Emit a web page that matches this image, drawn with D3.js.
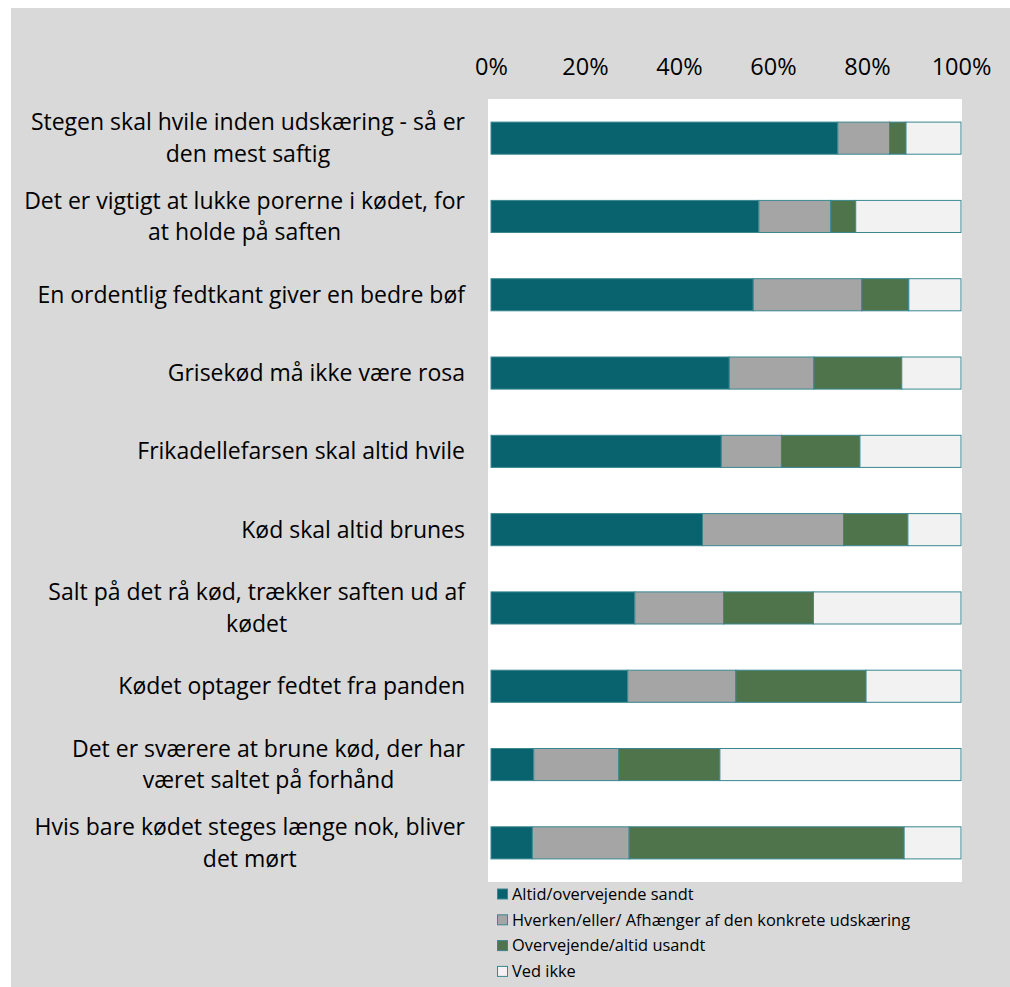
<!DOCTYPE html>
<html>
<head>
<meta charset="utf-8">
<script src="https://cdn.jsdelivr.net/npm/d3@7"></script>
<style>
  html, body { margin: 0; padding: 0; background: #ffffff; }
  svg { display: block; }
  text { font-family: "Open Sans", "Noto Sans", sans-serif; fill: #000; }
</style>
</head>
<body>
<svg id="chart" width="1010" height="987"></svg>
<script>
// Statements (line breaks mark where each label wraps)
const categories = [
  "Stegen skal hvile inden udskæring - så er\nden mest saftig",
  "Det er vigtigt at lukke porerne i kødet, for\nat holde på saften",
  "En ordentlig fedtkant giver en bedre bøf",
  "Grisekød må ikke være rosa",
  "Frikadellefarsen skal altid hvile",
  "Kød skal altid brunes",
  "Salt på det rå kød, trækker saften ud af\nkødet",
  "Kødet optager fedtet fra panden",
  "Det er sværere at brune kød, der har\nværet saltet på forhånd",
  "Hvis bare kødet steges længe nok, bliver\ndet mørt"
];

const seriesNames = [
  "Altid/overvejende sandt",
  "Hverken/eller/ Afhænger af den konkrete udskæring",
  "Overvejende/altid usandt",
  "Ved ikke"
];

// Share of answers (%) per statement, one array per answer option
const altidSandt   = [73.8, 57.0, 55.8, 50.7, 49.0, 45.0, 30.6, 29.1,  9.1,  8.8];
const hverkenEller = [11.0, 15.3, 23.1, 18.0, 12.8, 30.0, 18.9, 23.0, 18.1, 20.6];
const usandt       = [ 3.5,  5.3, 10.0, 18.7, 16.7, 13.7, 19.1, 27.7, 21.5, 58.5];
const vedIkke      = [11.7, 22.4, 11.1, 12.6, 21.5, 11.3, 31.4, 20.2, 51.3, 12.1];

const tickValues = [0, 0.2, 0.4, 0.6, 0.8, 1.0];
const colors = ["#08636f", "#a5a5a5", "#4f744c", "#f2f2f2"];

const svg = d3.select("#chart");

// Grey chart background and white plot area
svg.append("rect").attr("x", 11).attr("y", 8).attr("width", 999).attr("height", 979).attr("fill", "#d9d9d9");

const plot = { left: 488, right: 962, top: 99, bottom: 882 };
svg.append("rect")
  .attr("x", plot.left).attr("y", plot.top)
  .attr("width", plot.right - plot.left).attr("height", plot.bottom - plot.top)
  .attr("fill", "#ffffff");

const x = d3.scaleLinear().domain([0, 1]).range([491, 961]);
const y = d3.scaleBand().domain(d3.range(categories.length))
  .range([plot.top, plot.bottom]).paddingInner(0.59).paddingOuter(0.295);

// Build stacked rows from the series arrays
const rows = categories.map((c, i) => {
  const vals = [altidSandt[i], hverkenEller[i], usandt[i], vedIkke[i]];
  const total = d3.sum(vals);
  const obj = { i };
  seriesNames.forEach((s, k) => obj[s] = vals[k] / total);
  return obj;
});
const stacked = d3.stack().keys(seriesNames)(rows);

const layers = svg.append("g").selectAll("g").data(stacked).join("g")
  .attr("fill", (d, k) => colors[k]);

layers.selectAll("rect").data(d => d).join("rect")
  .attr("x", d => x(d[0]))
  .attr("y", d => y(d.data.i))
  .attr("width", d => x(d[1]) - x(d[0]))
  .attr("height", y.bandwidth())
  .attr("stroke", "#3a8790")
  .attr("stroke-width", 1);

// Percent axis on top
const axis = d3.axisTop(x).tickValues(tickValues).tickFormat(d3.format(".0%")).tickSize(0).tickPadding(0);
const gAxis = svg.append("g").attr("transform", "translate(0,75)").call(axis);
gAxis.select(".domain").remove();
gAxis.selectAll("text").style("font-size", "23.5px").style("font-family", "'Open Sans', sans-serif").attr("fill", "#000");

// Category labels: right-aligned block, lines centred within it
const labelRight = 465;
const lineH = 31.5;
categories.forEach((c, i) => {
  const lines = c.split("\n");
  const g = svg.append("g");
  const cy = y(i) + y.bandwidth() / 2;
  const texts = lines.map((ln, j) => g.append("text")
    .attr("y", cy + (j - (lines.length - 1) / 2) * lineH)
    .attr("dy", "0.35em")
    .style("font-size", "23px")
    .text(ln));
  const widths = texts.map(t => t.node().getComputedTextLength());
  const maxW = d3.max(widths);
  const centre = labelRight - maxW / 2;
  texts.forEach(t => t.attr("x", centre).attr("text-anchor", "middle"));
});

// Legend
const legend = svg.append("g");
seriesNames.forEach((s, k) => {
  const ly = 894 + k * 25.8;
  legend.append("rect").attr("x", 497.5).attr("y", ly - 5).attr("width", 10).attr("height", 10)
    .attr("fill", colors[k]).attr("stroke", "#3a8790").attr("stroke-width", 1);
  legend.append("text").attr("x", 512).attr("y", ly).attr("dy", "0.35em")
    .style("font-size", "16.4px").text(s);
});
</script>
</body>
</html>
